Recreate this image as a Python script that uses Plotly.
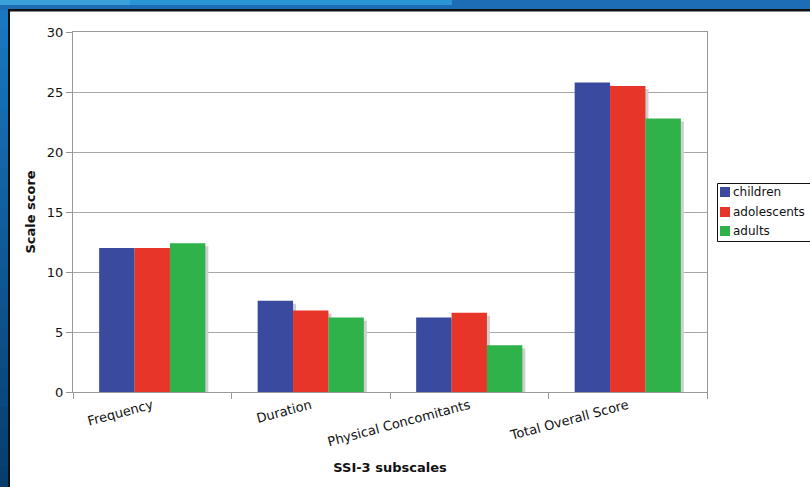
import plotly.graph_objects as go

categories = ["Frequency", "Duration", "Physical Concomitants", "Total Overall Score"]
children = [12.0, 7.6, 6.2, 25.8]
adolescents = [12.0, 6.8, 6.6, 25.5]
adults = [12.4, 6.2, 3.9, 22.8]
series_names = ["children", "adolescents", "adults"]
series_values = [children, adolescents, adults]
colors = ["#3A4B9F", "#E8352A", "#30B24B"]
y_ticks = [0, 5, 10, 15, 20, 25, 30]

W, H = 810, 487
L, R, T, B = 73, 707, 32, 392  # plot area pixel box

def px(x):
    return (x - L) / (R - L)

def py(y):
    return (B - y) / (B - T)

FONT = "DejaVu Sans"
fig = go.Figure()

# shadow bars (base axes), main bars on overlaying axes
shift_x = 3 / ((R - L) / 4)
shift_y = 3 / ((B - T) / 30)
for name, vals in zip(series_names, series_values):
    fig.add_trace(go.Bar(x=categories, y=vals, marker=dict(color="#cfcfcf", line=dict(width=0)),
                         showlegend=False, hoverinfo="skip", xaxis="x", yaxis="y"))
for name, vals, c in zip(series_names, series_values, colors):
    fig.add_trace(go.Bar(x=categories, y=vals, name=name, marker=dict(color=c, line=dict(width=0)),
                         showlegend=False, xaxis="x2", yaxis="y2"))

shapes = []
annotations = []
# background frame: gradient left strip
n = 24
top_c = (26, 120, 192)
bot_c = (8, 62, 110)
for i in range(n):
    t = i / (n - 1)
    c = tuple(int(top_c[k] + (bot_c[k] - top_c[k]) * t) for k in range(3))
    y0 = 9 + (H - 9) * i / n
    y1 = 9 + (H - 9) * (i + 1) / n
    shapes.append(dict(type="rect", xref="paper", yref="paper", layer="below",
                       x0=px(0), x1=px(9), y0=py(y1 + 1), y1=py(y0),
                       fillcolor="rgb(%d,%d,%d)" % c, line=dict(width=0)))
# top band
shapes.append(dict(type="rect", xref="paper", yref="paper", layer="below",
                   x0=px(0), x1=px(W), y0=py(10), y1=py(0), fillcolor="#1C6DB4", line=dict(width=0)))
shapes.append(dict(type="rect", xref="paper", yref="paper", layer="below",
                   x0=px(0), x1=px(452), y0=py(5), y1=py(0), fillcolor="#2A95D4", line=dict(width=0)))
shapes.append(dict(type="rect", xref="paper", yref="paper", layer="below",
                   x0=px(0), x1=px(130), y0=py(5), y1=py(0), fillcolor="#3AA0DC", line=dict(width=0)))
# white panel with black top/left border
shapes.append(dict(type="rect", xref="paper", yref="paper", layer="below",
                   x0=px(8), x1=px(W + 5), y0=py(H + 5), y1=py(9), fillcolor="#111111", line=dict(width=0)))
shapes.append(dict(type="rect", xref="paper", yref="paper", layer="below",
                   x0=px(10), x1=px(W + 5), y0=py(H + 5), y1=py(11.5), fillcolor="white", line=dict(width=0)))

# legend (drawn manually to match the compact original layout)
leg_left, leg_top, leg_bot = 717, 183, 241
shapes.append(dict(type="rect", xref="paper", yref="paper", layer="above",
                   x0=px(leg_left + 0.5), x1=px(W + 5), y0=py(leg_bot + 0.5), y1=py(leg_top + 0.5),
                   fillcolor="white", line=dict(color="#111111", width=1)))
row_y = [192, 212, 231]
for name, c, yy in zip(series_names, colors, row_y):
    shapes.append(dict(type="rect", xref="paper", yref="paper", layer="above",
                       x0=px(720), x1=px(730), y0=py(yy + 5), y1=py(yy - 5),
                       fillcolor=c, line=dict(width=0)))
    annotations.append(dict(text=name, xref="paper", yref="paper", x=px(731), y=py(yy),
                            xanchor="left", yanchor="middle", showarrow=False,
                            font=dict(family=FONT, size=12, color="#111111")))

fig.update_layout(
    width=W, height=H,
    margin=dict(l=L, r=W - R, t=T, b=H - B, autoexpand=False),
    paper_bgcolor="#1565B0",
    plot_bgcolor="rgba(0,0,0,0)",
    barmode="group",
    bargap=0.33,
    bargroupgap=0,
    font=dict(family=FONT, size=12, color="#111111"),
    shapes=shapes,
    annotations=annotations,
    showlegend=False,
    xaxis=dict(type="category", range=[-0.5 - shift_x, 3.5 - shift_x], showticklabels=False,
               showline=False, showgrid=False, zeroline=False, ticks=""),
    yaxis=dict(range=[0 + shift_y, 30 + shift_y], showticklabels=False,
               showgrid=False, zeroline=False, showline=False, ticks=""),
    xaxis2=dict(type="category", overlaying="x", range=[-0.5, 3.5], side="bottom",
                tickson="boundaries", ticks="outside", ticklen=6, tickcolor="#999999",
                tickangle=-15, showline=True, linecolor="#999999", linewidth=1, mirror=True,
                showgrid=False, zeroline=False,
                tickfont=dict(family=FONT, size=13, color="#111111"),
                title=dict(text="<b>SSI-3 subscales</b>", font=dict(family=FONT, size=13, color="#111111"),
                           standoff=14)),
    yaxis2=dict(overlaying="y", range=[0, 30], tickvals=y_ticks, side="left",
                ticks="outside", ticklen=6, tickcolor="#999999",
                showline=True, linecolor="#999999", linewidth=1, mirror=True,
                showgrid=True, gridcolor="#A8A8A8", gridwidth=1, zeroline=False,
                tickfont=dict(family=FONT, size=13, color="#111111"),
                title=dict(text="<b>Scale score</b>", font=dict(family=FONT, size=13, color="#111111"),
                           standoff=8)),
)

fig.write_html("out.html")
